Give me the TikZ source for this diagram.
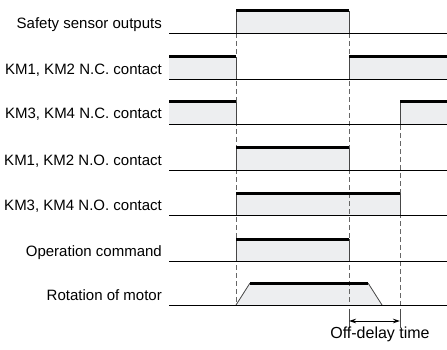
\documentclass[tikz,border=0pt]{standalone}
\usepackage{fontspec}
\setmainfont{Liberation Sans}
\usetikzlibrary{arrows.meta, positioning}
\definecolor{sigfill}{RGB}{237,238,240}
\definecolor{edgegray}{RGB}{70,70,70}

\begin{document}
\begin{tikzpicture}[
        x=1pt, y=-1pt,
        >={Stealth[length=7pt, width=4.5pt]},
        lbl/.style={anchor=base east, inner sep=0pt, font=\fontsize{15}{18}\selectfont},
        zeroline/.style={draw=black, line width=0.9pt},
        topline/.style={draw=black, line width=3pt},
        edgeline/.style={draw=edgegray, line width=0.8pt},
        guide/.style={draw=black!60, line width=0.8pt, dash pattern=on 5pt off 3pt},
        tickline/.style={draw=black!70, line width=0.8pt}
    ]
        \useasboundingbox (0,0) rectangle (447,350);

        % Signal names
        \foreach \name/\txt/\y in {sensor/Safety sensor outputs/29, ncA/{KM1, KM2 N.C. contact}/75,
                ncB/{KM3, KM4 N.C. contact}/119, noA/{KM1, KM2 N.O. contact}/165,
                noB/{KM3, KM4 N.O. contact}/210, cmd/Operation command/256, motor/Rotation of motor/300}
            \node[lbl] (\name) at (162,\y) {\txt};

        % High levels (grey area)
        \foreach \xa/\xb/\b in {236/349/33, 169/236/79, 349/447/79, 169/236/124, 400/447/124,
                236/349/170, 236/400/215, 236/349/261}
            \fill[sigfill] (\xa,\b) rectangle (\xb,\b-22);
        \fill[sigfill] (236,305) -- (250,283) -- (368,283) -- (382,305) -- cycle;

        % Timing guides
        \draw[guide] (236,33) -- (236,305);
        \draw[guide] (349,33) -- (349,305);
        \draw[guide] (400,101) -- (400,305);

        % Zero levels
        \foreach \b in {33,79,124,170,215,261,305}
            \draw[zeroline] (169,\b) -- (447,\b);

        % Edges
        \foreach \x/\b in {236/33, 349/33, 236/79, 349/79, 236/124, 400/124,
                236/170, 349/170, 236/215, 400/215, 236/261, 349/261}
            \draw[edgeline] (\x,\b) -- (\x,\b-22);
        \draw[edgeline] (236,305) -- (250,283);
        \draw[edgeline] (368,283) -- (382,305);

        % Tops
        \foreach \xa/\xb/\b in {236/349/33, 169/236/79, 349/447/79, 169/236/124, 400/447/124,
                236/349/170, 236/400/215, 236/349/261}
            \draw[topline] (\xa,\b-22) -- (\xb,\b-22);
        \draw[topline] (250,283) -- (368,283);

        % Off-delay time
        \coordinate (odA) at (349,321);
        \coordinate (odB) at (400,321);
        \draw[tickline] (349,309) -- (349,328);
        \draw[tickline] (400,309) -- (400,328);
        \draw[<->, line width=0.8pt] (odA) -- (odB);
        \node[anchor=base, inner sep=0pt, font=\fontsize{16}{19}\selectfont] (odtime) at (380,338) {Off-delay time};

    \end{tikzpicture}
\end{document}
